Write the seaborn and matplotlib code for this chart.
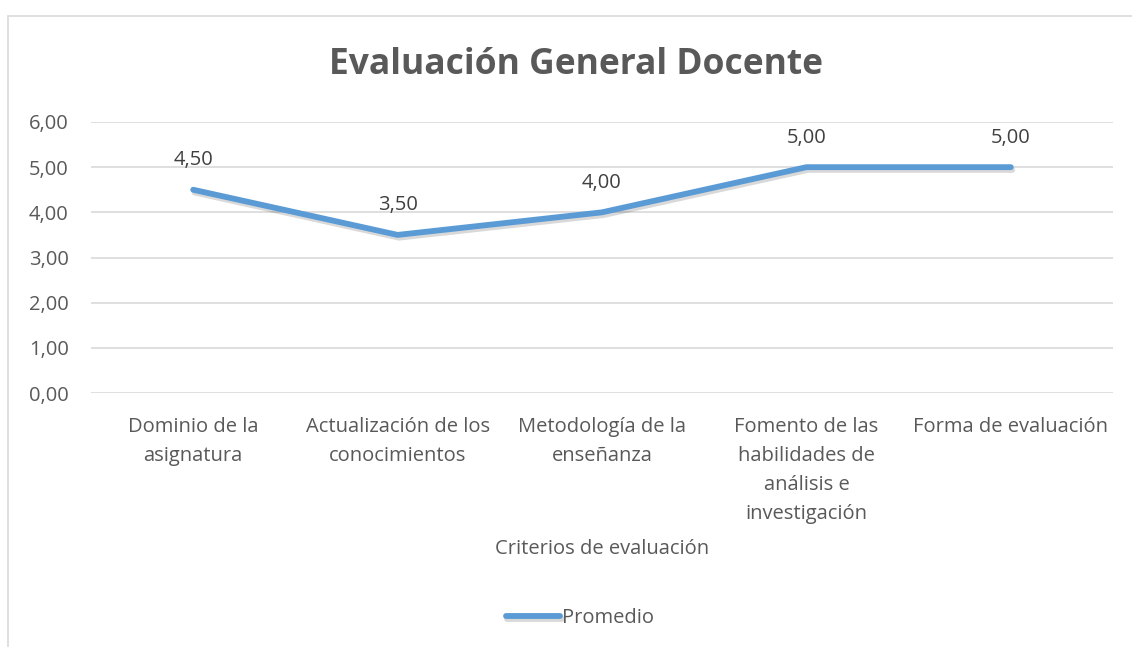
import matplotlib
matplotlib.use("Agg")
import matplotlib.pyplot as plt
import matplotlib.patheffects as pe
from matplotlib.patches import Rectangle
import seaborn as sns
import pandas as pd

# data
criterios = [
    "Dominio de la\nasignatura",
    "Actualización de los\nconocimientos",
    "Metodología de la\nenseñanza",
    "Fomento de las\nhabilidades de\nanálisis e\ninvestigación",
    "Forma de evaluación",
]
promedio = [4.5, 3.5, 4.0, 5.0, 5.0]
y_ticks = [0, 1, 2, 3, 4, 5, 6]

df = pd.DataFrame({"Criterio": criterios, "Promedio": promedio})

sns.set_style("white")
plt.rcParams["font.family"] = ["Open Sans", "DejaVu Sans"]

gray = "#595959"
blue = "#5B9BD5"
fs = 14.5

fig = plt.figure(figsize=(11.32, 6.47), dpi=100)
ax = fig.add_axes([91 / 1132, 1 - 393 / 647, 1022 / 1132, 271 / 647])

sns.lineplot(data=df, x="Criterio", y="Promedio", ax=ax, color=blue,
             linewidth=4.2, sort=False, label="Promedio",
             path_effects=[pe.SimpleLineShadow(offset=(1, -2), alpha=0.15),
                           pe.Normal()])
ax.lines[0].set_solid_capstyle("round")
ax.lines[0].set_solid_joinstyle("round")

for i, v in enumerate(promedio):
    ax.annotate(f"{v:.2f}".replace(".", ","), (i, v), xytext=(0, 14),
                textcoords="offset points", ha="center", va="bottom",
                fontsize=fs, color="#404040")

ax.set_xlim(-0.5, len(criterios) - 0.5)
ax.set_ylim(0, 6)
ax.set_yticks(y_ticks)
ax.set_yticklabels([f"{t:.2f}".replace(".", ",") for t in y_ticks])
ax.grid(axis="y", color="#D9D9D9", linewidth=1.2)
ax.set_axisbelow(True)
for s in ax.spines.values():
    s.set_visible(False)
ax.tick_params(axis="both", length=0, labelsize=fs, labelcolor=gray)
ax.tick_params(axis="x", pad=17)
ax.tick_params(axis="y", pad=16)
for lab in ax.get_xticklabels():
    lab.set_linespacing(1.6)

ax.set_xlabel("Criterios de evaluación", fontsize=fs, color=gray, labelpad=11)
ax.set_ylabel("")

fig.suptitle("Evaluación General Docente", x=576 / 1132, y=1 - 65 / 647,
             va="center", fontsize=25.5, fontweight="bold", color=gray)

ax.legend(loc="center", bbox_to_anchor=(580 / 1132, 1 - 618 / 647),
          bbox_transform=fig.transFigure, frameon=False, fontsize=fs,
          handlelength=2.7, handletextpad=0.1, labelcolor=gray)

fig.patches.append(Rectangle((8 / 1132, -0.1), 1.2, 1 - 16 / 647 + 0.1,
                             transform=fig.transFigure, fill=False,
                             edgecolor="#D9D9D9", linewidth=1.2))

fig.savefig("out.png", dpi=100)
